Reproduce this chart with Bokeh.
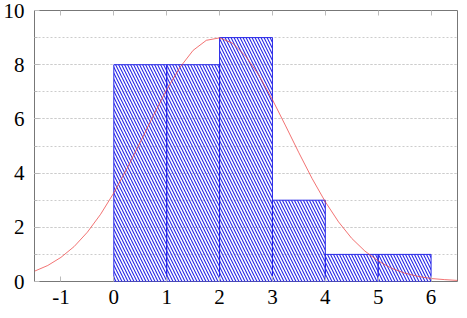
from bokeh.plotting import figure
from bokeh.models import ColumnDataSource, LinearAxis, SingleIntervalTicker, Range1d
from bokeh.embed import file_html
from bokeh.resources import INLINE

# Histogram bins and counts
bin_left = [0, 1, 2, 3, 4, 5]
bin_right = [1, 2, 3, 4, 5, 6]
counts = [8, 8, 9, 3, 1, 1]

# Fitted curve, values
curve_x = [-1.5, -1.25, -1.0, -0.75, -0.5, -0.25, 0.0, 0.25, 0.5, 0.75, 1.0, 1.25,
           1.5, 1.75, 2.0, 2.25, 2.5, 2.75, 3.0, 3.25, 3.5, 3.75, 4.0, 4.25, 4.5,
           4.75, 5.0, 5.25, 5.5, 5.75, 6.0, 6.25, 6.5]
curve_y = [0.38, 0.59, 0.89, 1.29, 1.82, 2.48, 3.27, 4.17, 5.14, 6.13, 7.08, 7.90,
           8.53, 8.90, 8.99, 8.79, 8.30, 7.59, 6.71, 5.74, 4.75, 3.80, 2.94, 2.20,
           1.59, 1.12, 0.76, 0.49, 0.31, 0.19, 0.11, 0.07, 0.04]

x_ticks = [-1, 0, 1, 2, 3, 4, 5, 6]
x_labels = {-1: "-1", 0: "0", 1: "1", 2: "2", 3: "3", 4: "4", 5: "5", 6: "6"}

FONT = "Liberation Serif"
TICK_COLOR = "#bbbbbb"

p = figure(width=459, height=306, output_backend="svg", toolbar_location=None,
           x_range=Range1d(-1.5, 6.5), y_range=Range1d(0, 10),
           min_border_left=2, min_border_right=2, min_border_top=10, min_border_bottom=4)
p.background_fill_color = "white"
p.border_fill_color = "white"
p.outline_line_color = "#777777"
p.outline_line_width = 1

src = ColumnDataSource(dict(left=bin_left, right=bin_right, top=counts,
                            bottom=[0] * len(counts)))
p.quad(left="left", right="right", top="top", bottom="bottom", source=src,
       fill_color=None, line_color="#2828e8", line_width=1,
       hatch_pattern="\\", hatch_color="#2828e8", hatch_scale=6, hatch_weight=1.1)

p.line(curve_x, curve_y, line_color="#ee4444", line_width=1, line_alpha=0.75)

# axes
p.xaxis.ticker = x_ticks
p.xaxis.major_label_overrides = x_labels
p.yaxis.ticker = SingleIntervalTicker(interval=2, num_minor_ticks=2)
for ax in p.xaxis + p.yaxis:
    ax.axis_line_color = None
    ax.major_tick_in = 5
    ax.major_tick_out = 0
    ax.minor_tick_in = 3
    ax.minor_tick_out = 0
    ax.major_tick_line_color = TICK_COLOR
    ax.minor_tick_line_color = TICK_COLOR
    ax.major_label_text_font = FONT
    ax.major_label_text_font_size = "21px"
    ax.major_label_text_color = "black"
p.xaxis.minor_tick_line_color = None
p.xaxis.major_label_standoff = 8
p.yaxis.major_label_standoff = 10

# top tick-only axis
empty_x = {t: "" for t in x_ticks}
top = LinearAxis(ticker=x_ticks, axis_line_color=None, major_tick_in=5, major_tick_out=0,
                 minor_tick_line_color=None, major_tick_line_color=TICK_COLOR,
                 major_label_overrides=empty_x, major_label_standoff=0)
p.add_layout(top, "above")

# grid
p.xgrid.grid_line_color = None
p.ygrid.grid_line_color = "#cccccc"
p.ygrid.grid_line_dash = "2 2"
p.ygrid.minor_grid_line_color = "#cccccc"
p.ygrid.minor_grid_line_dash = "2 2"

open("out.html", "w").write(file_html(p, INLINE))
